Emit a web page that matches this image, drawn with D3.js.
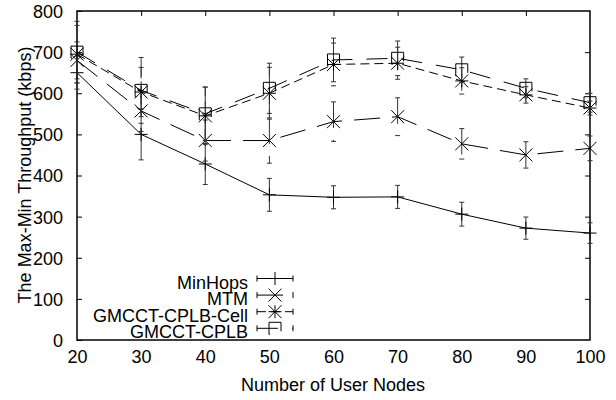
<!DOCTYPE html>
<html><head><meta charset="utf-8">
<script src="https://cdn.jsdelivr.net/npm/d3@7"></script>
<style>body{margin:0;background:#fff}svg{display:block}text{font-family:"Liberation Sans",Arial,sans-serif;font-size:18px;fill:#000}</style>
</head><body><svg id="c" width="616" height="400"></svg>
<script>
const xValues = [20, 30, 40, 50, 60, 70, 80, 90, 100];
const seriesNames = ["MinHops", "MTM", "GMCCT-CPLB-Cell", "GMCCT-CPLB"];
const minHops    = [650, 500, 428, 353, 347, 348, 306, 272, 260];
const minHopsErr = [40, 62, 50, 40, 28, 28, 29, 27, 25];
const mtm        = [680, 557, 485, 485, 531, 543, 477, 450, 466];
const mtmErr     = [45, 50, 50, 55, 48, 46, 37, 32, 30];
const cell       = [695, 603, 545, 600, 670, 673, 630, 596, 564];
const cellErr    = [70, 60, 70, 63, 52, 39, 32, 20, 17];
const cplb       = [700, 607, 550, 612, 681, 685, 657, 612, 577];
const cplbErr    = [75, 80, 65, 61, 53, 42, 31, 23, 23];
const xTicks = [20, 30, 40, 50, 60, 70, 80, 90, 100];
const yTicks = [0, 100, 200, 300, 400, 500, 600, 700, 800];

const svg = d3.select("#c");
const L = 77, R = 590, T = 11, B = 340;
const x = d3.scaleLinear().domain([20, 100]).range([L, R]);
const y = d3.scaleLinear().domain([0, 800]).range([B, T]);

const series = [
  {name: seriesNames[0], v: minHops, e: minHopsErr, dash: null, mark: "plus"},
  {name: seriesNames[1], v: mtm, e: mtmErr, dash: "26,12", mark: "cross"},
  {name: seriesNames[2], v: cell, e: cellErr, dash: "9,5", mark: "star"},
  {name: seriesNames[3], v: cplb, e: cplbErr, dash: "21,14", mark: "square"}
];

function marker(g, type, cx, cy, dash) {
  const s = 6.5;
  const p = d3.path();
  if (type === "plus" || type === "star") { p.moveTo(cx - s, cy); p.lineTo(cx + s, cy); p.moveTo(cx, cy - s); p.lineTo(cx, cy + s); }
  if (type === "cross" || type === "star") { p.moveTo(cx - s, cy - s); p.lineTo(cx + s, cy + s); p.moveTo(cx - s, cy + s); p.lineTo(cx + s, cy - s); }
  if (type === "star") { /* keep */ }
  if (type === "square") { p.rect(cx - 6, cy - 6, 12, 12); }
  g.append("path").attr("d", p.toString()).attr("fill", "none").attr("stroke", "#000").attr("stroke-width", 1)
    .attr("stroke-dasharray", type === "square" ? dash : null);
}

// axes (box with inward ticks)
const axG = svg.append("g");
const yAxisL = d3.axisLeft(y).tickValues(yTicks).tickSizeInner(-5).tickSizeOuter(0).tickPadding(14);
const gl = axG.append("g").attr("transform", `translate(${L},0)`).call(yAxisL);
const yAxisR = d3.axisRight(y).tickValues(yTicks.slice(1, -1)).tickSizeInner(-5).tickSizeOuter(0).tickFormat("");
axG.append("g").attr("transform", `translate(${R},0)`).call(yAxisR);
const xAxisB = d3.axisBottom(x).tickValues(xTicks).tickSizeInner(0).tickSizeOuter(0).tickPadding(10);
const gb = axG.append("g").attr("transform", `translate(0,${B})`).call(xAxisB);
const xAxisT = d3.axisTop(x).tickValues(xTicks.slice(1, -1)).tickSizeInner(-5).tickSizeOuter(0).tickFormat("");
axG.append("g").attr("transform", `translate(0,${T})`).call(xAxisT);
axG.selectAll(".domain").remove();
axG.selectAll("line").attr("stroke", "#000").attr("stroke-width", 1);
axG.selectAll("text").attr("font-family", "Liberation Sans, Arial, sans-serif").attr("font-size", 18).attr("fill", "#000");
gl.selectAll("text").attr("dy", "0.36em");
gb.selectAll("text").attr("dy", "0.72em");
svg.append("rect").attr("x", L).attr("y", T).attr("width", R - L).attr("height", B - T)
  .attr("fill", "none").attr("stroke", "#000").attr("stroke-width", 1.5);

// data
const line = d3.line().x((d, i) => x(xValues[i])).y(d => y(d));
series.forEach(s => {
  const g = svg.append("g");
  g.append("path").attr("d", line(s.v)).attr("fill", "none").attr("stroke", "#000").attr("stroke-width", 1)
    .attr("stroke-dasharray", s.dash);
  s.v.forEach((v, i) => {
    const cx = x(xValues[i]);
    const y1 = y(v + s.e[i]), y2 = y(v - s.e[i]);
    g.append("line").attr("x1", cx).attr("x2", cx).attr("y1", y1).attr("y2", y2)
      .attr("stroke", "#333").attr("stroke-width", 1).attr("stroke-dasharray", s.dash);
    [y1, y2].forEach(yy => g.append("line").attr("x1", cx - 2.5).attr("x2", cx + 2.5).attr("y1", yy).attr("y2", yy)
      .attr("stroke", "#333").attr("stroke-width", 1));
    marker(g, s.mark, cx, y(v), s.dash);
  });
});

// legend
series.forEach((s, i) => {
  const ly = 278.5 + 16.6 * i;
  const g = svg.append("g");
  g.append("text").attr("x", 248).attr("y", ly + 10).attr("text-anchor", "end").text(s.name);
  g.append("line").attr("x1", 257).attr("x2", 293).attr("y1", ly).attr("y2", ly)
    .attr("stroke", "#000").attr("stroke-width", 1).attr("stroke-dasharray", s.dash);
  [257, 293].forEach(xx => g.append("line").attr("x1", xx).attr("x2", xx).attr("y1", ly - 3).attr("y2", ly + 3)
    .attr("stroke", "#000").attr("stroke-width", 1));
  marker(g, s.mark, 275, ly, s.dash);
});

// axis titles
svg.append("text").attr("x", 333).attr("y", 391).attr("text-anchor", "middle").text("Number of User Nodes");
svg.append("text").attr("transform", "translate(31,175) rotate(-90)").attr("text-anchor", "middle").text("The Max-Min Throughput (kbps)");
</script></body></html>
